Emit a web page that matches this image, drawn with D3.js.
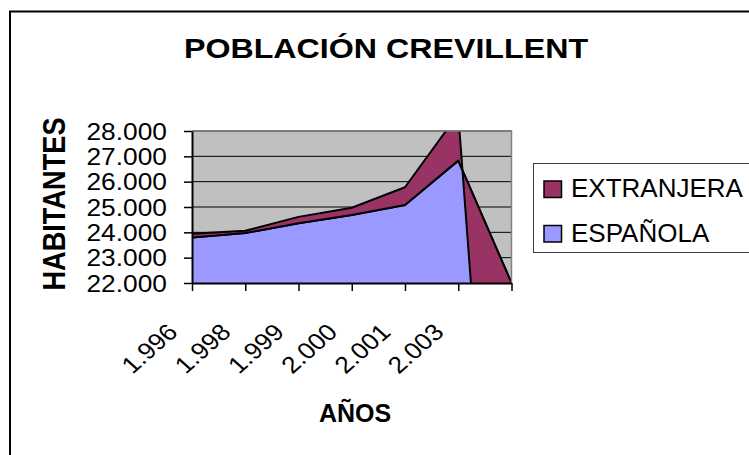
<!DOCTYPE html>
<html>
<head>
<meta charset="utf-8">
<script src="https://cdn.jsdelivr.net/npm/d3@7"></script>
<style>
  html, body { margin: 0; padding: 0; background: #fff; }
  svg { display: block; }
  text { font-family: "Liberation Sans", Arial, sans-serif; fill: #000; }
</style>
</head>
<body>
<script>
// datos
const years = ["1.996", "1.998", "1.999", "2.000", "2.001", "2.003", ""]
const espanola = [23800, 23970, 24360, 24680, 25080, 26830, 22000]
const extranjera = [140, 90, 250, 290, 700, 1840, -21350]
const seriesNames = ["ESPAÑOLA", "EXTRANJERA"]
const seriesColors = ["#9999FF", "#993366"]
const yTicks = [22000, 23000, 24000, 25000, 26000, 27000, 28000]

const WIDTH = 749
const HEIGHT = 455
const SX = 1.13 // el texto del original sale algo ensanchado

const svg = d3.select("body").append("svg")
  .attr("width", WIDTH).attr("height", HEIGHT)

// borde exterior del grafico (cortado a la derecha y abajo)
svg.append("rect")
  .attr("x", 10).attr("y", 11.5)
  .attr("width", 800).attr("height", 500)
  .attr("fill", "#fff").attr("stroke", "#000").attr("stroke-width", 2)

const plot = { left: 192, top: 131, right: 511.5, bottom: 283 }

const x = d3.scalePoint().domain(years).range([plot.left, plot.right])
const y = d3.scaleLinear().domain([22000, 28000]).range([plot.bottom, plot.top])

const locale = d3.formatLocale({ decimal: ",", thousands: ".", grouping: [3], currency: ["", " €"] })
const fmt = locale.format(",.0f")

// fondo del area de trazado
svg.append("rect")
  .attr("x", plot.left).attr("y", plot.top)
  .attr("width", plot.right - plot.left).attr("height", plot.bottom - plot.top)
  .attr("fill", "#C0C0C0")

// lineas de division
svg.append("g").selectAll("line")
  .data(yTicks.slice(1))
  .enter().append("line")
  .attr("x1", plot.left).attr("x2", plot.right)
  .attr("y1", d => y(d)).attr("y2", d => y(d))
  .attr("stroke", "#000").attr("stroke-width", 1)

// areas apiladas
const table = years.map((yr, i) => ({ year: yr, ESPAÑOLA: espanola[i], EXTRANJERA: extranjera[i] }))
const stacked = d3.stack().keys(seriesNames)(table)

svg.append("clipPath").attr("id", "clip")
  .append("rect")
  .attr("x", plot.left).attr("y", plot.top)
  .attr("width", plot.right - plot.left).attr("height", plot.bottom - plot.top)

const area = d3.area()
  .x(d => x(d.data.year))
  .y0(d => y(d[0]))
  .y1(d => y(d[1]))

svg.append("g").attr("clip-path", "url(#clip)")
  .selectAll("path")
  .data(stacked)
  .enter().append("path")
  .attr("d", area)
  .attr("fill", (d, i) => seriesColors[i])
  .attr("stroke", "#000")
  .attr("stroke-width", 2)
  .attr("stroke-linejoin", "round")

// borde superior y derecho del area de trazado
svg.append("path")
  .attr("d", "M" + plot.left + "," + plot.top + "H" + plot.right + "V" + plot.bottom)
  .attr("fill", "none").attr("stroke", "#808080").attr("stroke-width", 1.5)

// eje Y
const yAxis = svg.append("g")
  .attr("transform", "translate(" + plot.left + ",0)")
  .call(d3.axisLeft(y).tickValues(yTicks).tickFormat(fmt).tickSize(8).tickSizeOuter(0))
yAxis.select(".domain").attr("stroke", "#000").attr("stroke-width", 2)
yAxis.selectAll(".tick line").attr("stroke", "#000").attr("stroke-width", 1.5)
yAxis.selectAll(".tick text")
  .attr("x", null).attr("dy", "0.35em")
  .attr("transform", "translate(-25,0) scale(" + SX + ",1)")
  .style("font-size", "23.3px").style("font-family", null)

// eje X
const xAxis = svg.append("g")
  .attr("transform", "translate(0," + plot.bottom + ")")
  .call(d3.axisBottom(x).tickSize(8).tickSizeOuter(0))
xAxis.select(".domain").attr("stroke", "#000").attr("stroke-width", 2)
xAxis.selectAll(".tick line").attr("stroke", "#000").attr("stroke-width", 1.5)
xAxis.selectAll(".tick text")
  .attr("y", null).attr("dy", null)
  .attr("text-anchor", "end")
  .attr("transform", "translate(-13.5,50.5) scale(" + SX + ",1) rotate(-45)")
  .style("font-size", "23.3px").style("font-family", null)

// titulos
svg.append("text")
  .attr("transform", "translate(386,57.5) scale(" + SX + ",1)")
  .attr("text-anchor", "middle")
  .style("font-size", "28.5px").style("font-weight", "bold")
  .text("POBLACIÓN CREVILLENT")

svg.append("text")
  .attr("transform", "translate(65,204) scale(" + SX + ",1) rotate(-90)")
  .attr("text-anchor", "middle")
  .style("font-size", "27.2px").style("font-weight", "bold")
  .text("HABITANTES")

svg.append("text")
  .attr("transform", "translate(355,421.5)")
  .attr("text-anchor", "middle")
  .style("font-size", "25px").style("font-weight", "bold")
  .text("AÑOS")

// leyenda
const legend = svg.append("g")
legend.append("rect")
  .attr("x", 533.5).attr("y", 163.5)
  .attr("width", 260).attr("height", 89)
  .attr("fill", "#fff").attr("stroke", "#404040").attr("stroke-width", 1)

const legendItems = [1, 0] // EXTRANJERA arriba, ESPAÑOLA abajo
legend.selectAll(".item")
  .data(legendItems)
  .enter().append("g")
  .attr("class", "item")
  .attr("transform", (d, i) => "translate(544," + (181 + i * 44.5) + ")")
  .each(function(d) {
    const g = d3.select(this)
    g.append("rect")
      .attr("width", 17.5).attr("height", 16.5)
      .attr("fill", seriesColors[d]).attr("stroke", "#000").attr("stroke-width", 1.5)
    g.append("text")
      .attr("x", 27).attr("y", 16)
      .style("font-size", "26px")
      .text(seriesNames[d])
  })
</script>
</body>
</html>
